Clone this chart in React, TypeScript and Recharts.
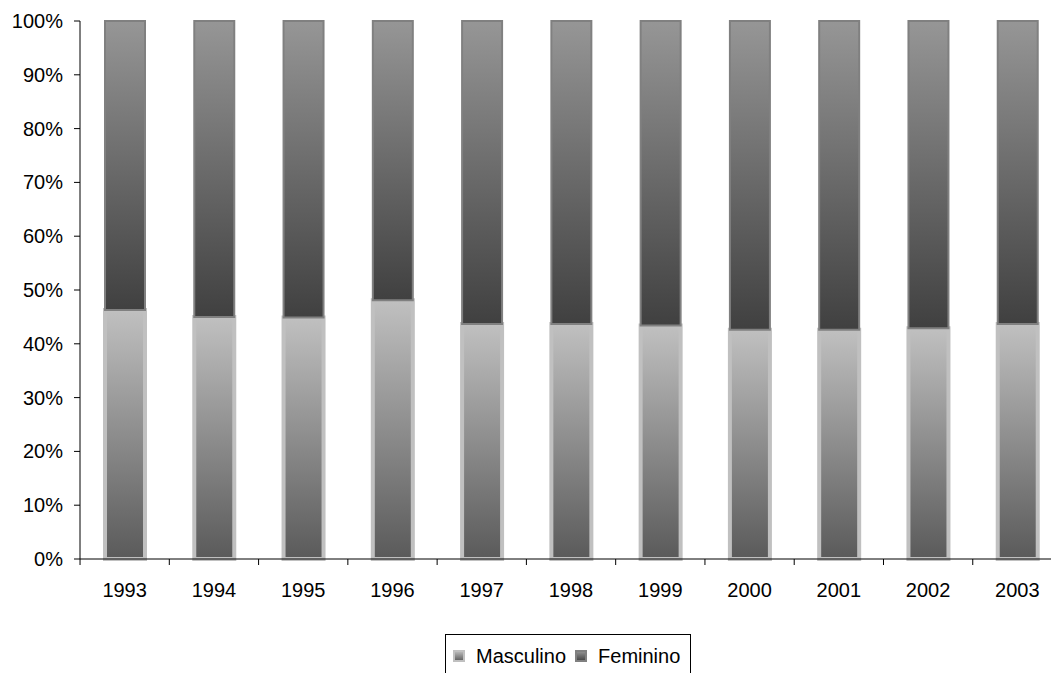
import { Bar, BarChart, XAxis, YAxis } from 'recharts';

const years = ['1993', '1994', '1995', '1996', '1997', '1998', '1999', '2000', '2001', '2002', '2003'];
const masculino = [46.3, 45.0, 44.9, 48.1, 43.7, 43.7, 43.4, 42.6, 42.6, 42.9, 43.7];
const feminino = masculino.map((m) => +(100 - m).toFixed(1));
const yTicks = [0, 0.1, 0.2, 0.3, 0.4, 0.5, 0.6, 0.7, 0.8, 0.9, 1];

const data = years.map((y, i) => ({ year: y, Masculino: masculino[i], Feminino: feminino[i] }));

const FONT = '"Liberation Sans", Arial, sans-serif';
const BAND = 89.2;

function XTick(props: any) {
  const { x, y, payload } = props;
  return (
    <g>
      <line x1={x - BAND / 2} y1={y - 8} x2={x - BAND / 2} y2={y - 2} stroke="#000" />
      <text x={x} y={y + 30} textAnchor="middle" fontSize={20} fontFamily={FONT} fill="#000">
        {payload.value}
      </text>
    </g>
  );
}

function YTick(props: any) {
  const { x, y, payload } = props;
  return (
    <text x={x - 9} y={y + 7} textAnchor="end" fontSize={20} fontFamily={FONT} fill="#000">
      {`${Math.round(payload.value * 100)}%`}
    </text>
  );
}

function Swatch({ stroke, grad }: { stroke: string; grad: string }) {
  return (
    <svg width={12} height={12} style={{ display: 'block' }}>
      <rect x={1} y={1} width={10} height={10} fill={`url(#${grad})`} stroke={stroke} strokeWidth={2} />
    </svg>
  );
}

export default function App() {
  return (
    <div style={{ position: 'absolute', left: 0, top: 0, width: 1051, height: 673, overflow: 'hidden', background: '#fff' }}>
      <svg width={0} height={0} style={{ position: 'absolute' }}>
        <defs>
          <linearGradient id="gMasc" x1="0" y1="0" x2="0" y2="1">
            <stop offset="0%" stopColor="#c0c0c0" />
            <stop offset="100%" stopColor="#5a5a5a" />
          </linearGradient>
          <linearGradient id="gFem" x1="0" y1="0" x2="0" y2="1">
            <stop offset="0%" stopColor="#969696" />
            <stop offset="100%" stopColor="#404040" />
          </linearGradient>
        </defs>
      </svg>
      <BarChart
        width={1062}
        height={673}
        data={data}
        stackOffset="expand"
        barSize={40}
        margin={{ top: 21, right: 0, left: 0, bottom: 74 }}
      >
        <XAxis
          dataKey="year"
          height={40}
          tickLine={false}
          axisLine={{ stroke: '#000' }}
          tick={<XTick />}
          interval={0}
        />
        <YAxis
          width={80}
          ticks={yTicks}
          domain={[0, 1]}
          interval={0}
          tick={<YTick />}
          tickLine={{ stroke: '#000' }}
          tickSize={6}
          axisLine={{ stroke: '#000' }}
        />
        <Bar dataKey="Masculino" stackId="a" fill="url(#gMasc)" stroke="#c0c0c0" strokeWidth={4} isAnimationActive={false} />
        <Bar dataKey="Feminino" stackId="a" fill="url(#gFem)" stroke="#808080" strokeWidth={2} isAnimationActive={false} />
      </BarChart>
      <div
        style={{
          position: 'absolute',
          left: 445,
          top: 634,
          width: 246,
          height: 50,
          border: '1px solid #000',
          boxSizing: 'border-box',
          display: 'flex',
          alignItems: 'flex-start',
          paddingTop: 10,
          paddingLeft: 7,
          fontFamily: FONT,
          fontSize: 20,
          color: '#000',
        }}
      >
        <div style={{ display: 'flex', alignItems: 'center', lineHeight: '22px' }}>
          <Swatch stroke="#c0c0c0" grad="gMasc" />
          <span style={{ marginLeft: 11 }}>Masculino</span>
          <span style={{ marginLeft: 9 }}>
            <Swatch stroke="#808080" grad="gFem" />
          </span>
          <span style={{ marginLeft: 11 }}>Feminino</span>
        </div>
      </div>
    </div>
  );
}
